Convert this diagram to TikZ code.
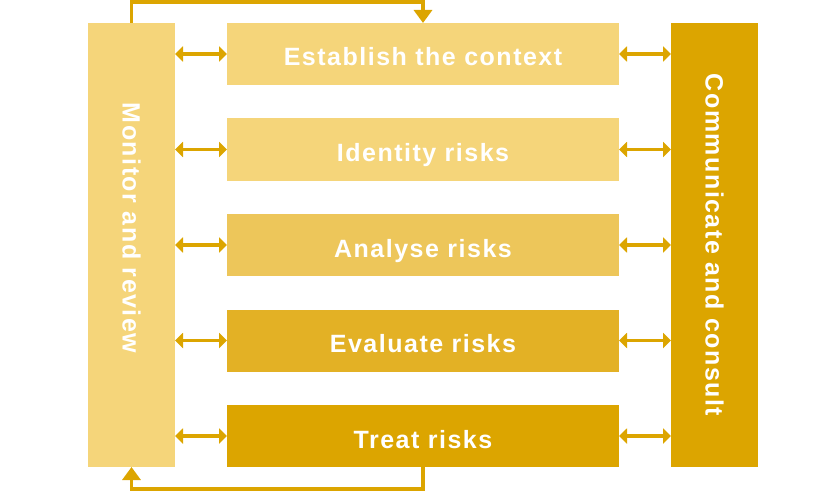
\documentclass[tikz,border=0pt]{standalone}
\usepackage{fontspec}
\setmainfont{Liberation Sans}
\usepackage{xcolor}
\usetikzlibrary{arrows.meta,positioning}
\newfontfamily\labelfont[LetterSpace=6]{Liberation Sans Bold}
\definecolor{goldlight}{HTML}{F5D57A}
\definecolor{goldmid}{HTML}{EDC65A}
\definecolor{golddeep}{HTML}{E3B125}
\definecolor{golddark}{HTML}{DCA500}

\begin{document}
\begin{tikzpicture}[x=1pt, y=1pt, node distance=33.5pt,
        stage/.style={fill=#1, minimum width=392pt, minimum height=62pt, inner sep=0pt, outer sep=0pt, text=white, text height=24pt, text depth=0pt, font=\labelfont\fontsize{25}{30}\selectfont},
        bar/.style={fill=#1, minimum width=87pt, minimum height=444pt, inner sep=0pt, outer sep=0pt},
        barlabel/.style={rotate=-90, text=white, inner sep=0pt, font=\labelfont\fontsize{25}{30}\selectfont},
        link/.style={golddark, line width=3.5pt, {Triangle[width=15pt,length=8pt]}-{Triangle[width=15pt,length=8pt]}},
        feedback/.style={golddark, line width=3.5pt, -{Triangle[width=18pt,length=13pt]}}]
        \useasboundingbox (0,0) rectangle (840,-492);

        % Process stages
        \node [stage=goldlight] (context) at (423,-54) {Establish the context};
        \node [stage=goldlight, below=of context] (identify) {Identity risks};
        \node [stage=goldmid, below=of identify] (analyse) {Analyse risks};
        \node [stage=golddeep, below=of analyse] (evaluate) {Evaluate risks};
        \node [stage=golddark, below=of evaluate] (treat) {Treat risks};

        % Side bars
        \node [bar=goldlight] (monitor) at (131.5,-245) {};
        \node [barlabel] (monitortext) at ([yshift=17pt]monitor.center) {Monitor and review};
        \node [bar=golddark] (consult) at (714.5,-245) {};
        \node [barlabel] (consulttext) at (consult.center) {Communicate and consult};

        % Arrows
        \foreach \s in {context,identify,analyse,evaluate,treat} {
            \draw [link] (monitor.east |- \s.west) -- (\s.west);
            \draw [link] (\s.east) -- (consult.west |- \s.east);
        }

        % Feedback loop
        \draw [feedback] (monitor.north) |- ([yshift=21pt]context.north) -- (context.north);
        \draw [feedback] (treat.south) -- ++(0,-22) -| (monitor.south);
    \end{tikzpicture}
\end{document}
